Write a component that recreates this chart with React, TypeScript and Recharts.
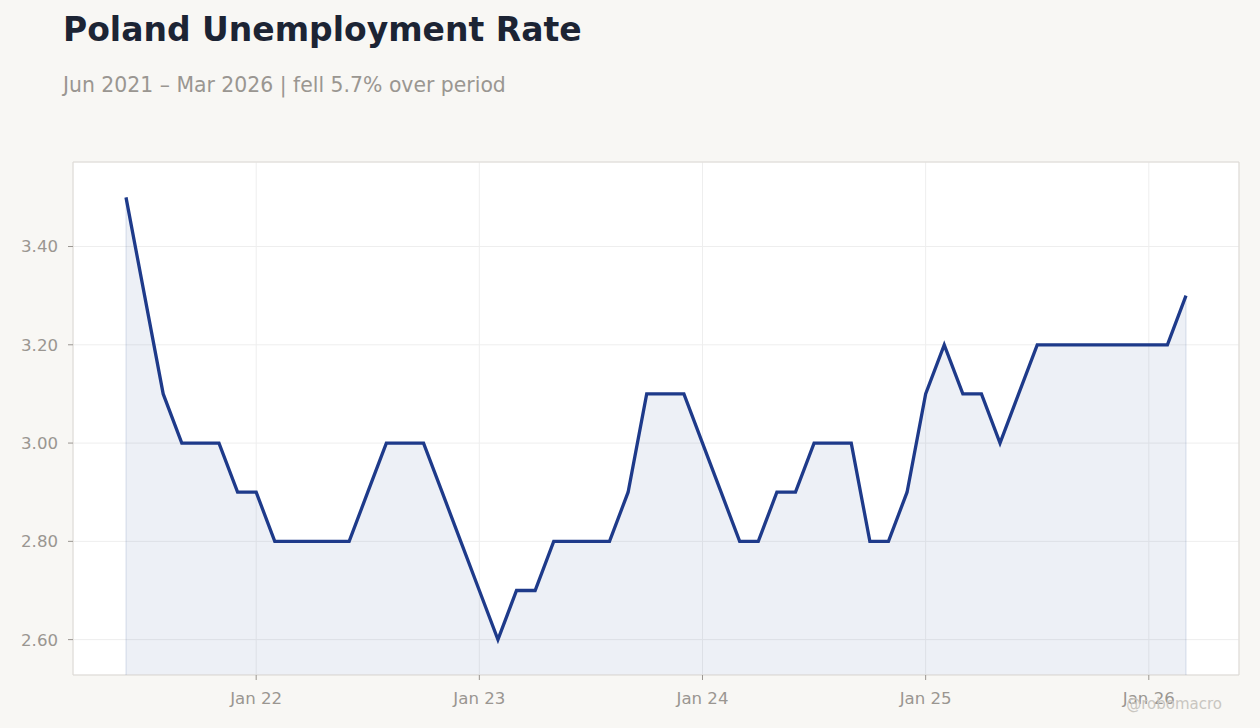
import * as React from 'react'
import {
  AreaChart,
  Area,
  XAxis,
  YAxis,
  CartesianGrid,
  ReferenceArea,
  ReferenceLine,
} from 'recharts'

// monthly readings, Jun 2021 .. Mar 2026
const months = [
  '2021-06', '2021-07', '2021-08', '2021-09', '2021-10', '2021-11', '2021-12',
  '2022-01', '2022-02', '2022-03', '2022-04', '2022-05', '2022-06', '2022-07',
  '2022-08', '2022-09', '2022-10', '2022-11', '2022-12', '2023-01', '2023-02',
  '2023-03', '2023-04', '2023-05', '2023-06', '2023-07', '2023-08', '2023-09',
  '2023-10', '2023-11', '2023-12', '2024-01', '2024-02', '2024-03', '2024-04',
  '2024-05', '2024-06', '2024-07', '2024-08', '2024-09', '2024-10', '2024-11',
  '2024-12', '2025-01', '2025-02', '2025-03', '2025-04', '2025-05', '2025-06',
  '2025-07', '2025-08', '2025-09', '2025-10', '2025-11', '2025-12', '2026-01',
  '2026-02', '2026-03',
]

const rate = [
  3.5, 3.3, 3.1, 3.0, 3.0, 3.0, 2.9,
  2.9, 2.8, 2.8, 2.8, 2.8, 2.8, 2.9,
  3.0, 3.0, 3.0, 2.9, 2.8, 2.7, 2.6,
  2.7, 2.7, 2.8, 2.8, 2.8, 2.8, 2.9,
  3.1, 3.1, 3.1, 3.0, 2.9, 2.8, 2.8,
  2.9, 2.9, 3.0, 3.0, 3.0, 2.8, 2.8,
  2.9, 3.1, 3.2, 3.1, 3.1, 3.0, 3.1,
  3.2, 3.2, 3.2, 3.2, 3.2, 3.2, 3.2,
  3.2, 3.3,
]

const yTicks = [2.6, 2.8, 3.0, 3.2, 3.4]
const xDomain = [-2.85, months.length - 1 + 2.85]
const yDomain = [2.528, 3.572]

const LINE = '#1e3a8a'
const MUTED = '#9a9691'

const data = months.map((m, i) => ({ i, month: m, rate: rate[i] }))
const janTicks = data.filter((d) => d.month.endsWith('-01')).map((d) => d.i)

const fmtMonth = (i: number) => {
  const m = months[i]
  if (!m) return ''
  return 'Jan ' + m.slice(2, 4)
}

export default function App() {
  const last = data.length - 1
  return (
    <div
      style={{
        position: 'absolute',
        top: 0,
        left: 0,
        width: 1260,
        height: 728,
        background: '#f8f7f4',
        fontFamily: '"DejaVu Sans", sans-serif',
        overflow: 'hidden',
      }}
    >
      <div
        style={{
          position: 'absolute',
          left: 63,
          top: 13,
          fontSize: 33,
          lineHeight: '33px',
          fontWeight: 700,
          color: '#1c2434',
          whiteSpace: 'nowrap',
        }}
      >
        Poland Unemployment Rate
      </div>
      <div
        style={{
          position: 'absolute',
          left: 63,
          top: 75,
          fontSize: 20.4,
          lineHeight: '20px',
          color: MUTED,
          whiteSpace: 'nowrap',
        }}
      >
        Jun 2021 – Mar 2026 | fell 5.7% over period
      </div>

      <div style={{ position: 'absolute', top: 0, left: 0 }}>
        <AreaChart
          width={1260}
          height={728}
          data={data}
          margin={{ top: 162, right: 21, bottom: 23, left: 13 }}
        >
          <CartesianGrid stroke='#eeeeee' fill='#ffffff' />
          <XAxis
            dataKey='i'
            type='number'
            domain={xDomain}
            ticks={janTicks}
            tickFormatter={fmtMonth}
            height={30}
            axisLine={false}
            tickLine={{ stroke: MUTED }}
            tickSize={5}
            tickMargin={12}
            tick={{ fill: MUTED, fontSize: 16.6 }}
            allowDataOverflow
          />
          <YAxis
            type='number'
            domain={yDomain}
            ticks={yTicks}
            tickFormatter={(v: number) => v.toFixed(2)}
            width={60}
            axisLine={false}
            tickLine={{ stroke: MUTED }}
            tickSize={5}
            tickMargin={10}
            tick={{ fill: MUTED, fontSize: 16.6 }}
            allowDataOverflow
          />
          <Area
            type='linear'
            dataKey='rate'
            stroke={LINE}
            strokeWidth={3.3}
            strokeLinejoin='miter'
            fill={LINE}
            fillOpacity={0.08}
            baseValue={yDomain[0]}
            dot={false}
            activeDot={false}
            isAnimationActive={false}
          />
          <ReferenceLine
            segment={[
              { x: 0, y: yDomain[0] },
              { x: 0, y: rate[0] },
            ]}
            stroke={LINE}
            strokeOpacity={0.08}
            strokeWidth={2}
          />
          <ReferenceLine
            segment={[
              { x: last, y: yDomain[0] },
              { x: last, y: rate[last] },
            ]}
            stroke={LINE}
            strokeOpacity={0.08}
            strokeWidth={2}
          />
          <ReferenceArea
            x1={xDomain[0]}
            x2={xDomain[1]}
            y1={yDomain[0]}
            y2={yDomain[1]}
            fill='none'
            stroke='#ddd9d4'
            strokeWidth={1}
          />
        </AreaChart>
      </div>

      <div
        style={{
          position: 'absolute',
          right: 38,
          top: 697,
          fontSize: 15,
          lineHeight: '15px',
          color: '#c9c6c1',
          whiteSpace: 'nowrap',
        }}
      >
        @robomacro
      </div>
    </div>
  )
}
